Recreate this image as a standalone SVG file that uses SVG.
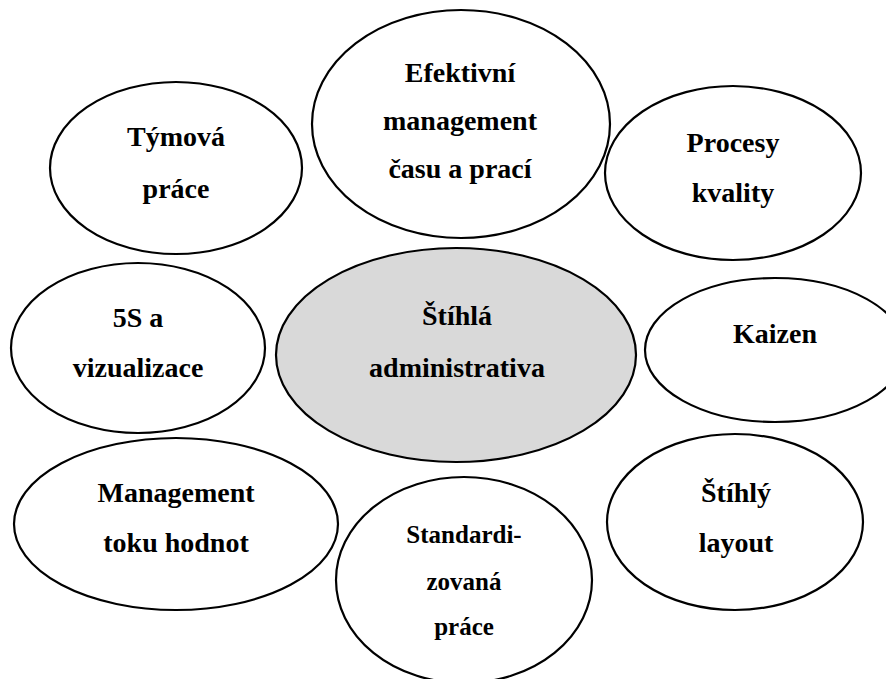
<svg xmlns="http://www.w3.org/2000/svg" width="886" height="679" viewBox="0 0 886 679">
  <style>
    .node { fill: #ffffff; stroke: #000000; stroke-width: 2.2; }
    .core { fill: #d9d9d9; stroke: #000000; stroke-width: 2.2; }
    .label { font-family: "Liberation Serif", "Times New Roman", serif; font-weight: bold; font-size: 28px; fill: #000000; text-anchor: middle; }
    .small { font-size: 25px; }
  </style>
  <rect width="886" height="679" fill="#ffffff"/>

  <!-- no connectors: the topics are laid out around the centre -->
  <g id="connectors"/>

  <g id="tymova-prace">
    <ellipse class="node" cx="176" cy="168" rx="126" ry="86"/>
    <text class="label" x="176" y="146">Týmová</text>
    <text class="label" x="176" y="198">práce</text>
  </g>

  <g id="efektivni-management">
    <ellipse class="node" cx="461" cy="124" rx="149" ry="114"/>
    <text class="label" x="460" y="82">Efektivní</text>
    <text class="label" x="460" y="130">management</text>
    <text class="label" x="460" y="178">času a prací</text>
  </g>

  <g id="procesy-kvality">
    <ellipse class="node" cx="733" cy="173" rx="128" ry="87"/>
    <text class="label" x="733" y="152">Procesy</text>
    <text class="label" x="733" y="202">kvality</text>
  </g>

  <g id="5s-vizualizace">
    <ellipse class="node" cx="138" cy="348" rx="127" ry="85"/>
    <text class="label" x="138" y="327">5S a</text>
    <text class="label" x="138" y="377">vizualizace</text>
  </g>

  <g id="stihla-administrativa">
    <ellipse class="core" cx="456" cy="355" rx="180" ry="107"/>
    <text class="label" x="457" y="325">Štíhlá</text>
    <text class="label" x="457" y="377">administrativa</text>
  </g>

  <g id="kaizen">
    <ellipse class="node" cx="775" cy="350" rx="130" ry="72"/>
    <text class="label" x="775" y="343">Kaizen</text>
  </g>

  <g id="management-toku-hodnot">
    <ellipse class="node" cx="176" cy="524" rx="162" ry="86"/>
    <text class="label" x="176" y="502">Management</text>
    <text class="label" x="176" y="552">toku hodnot</text>
  </g>

  <g id="standardizovana-prace">
    <ellipse class="node" cx="464" cy="580" rx="128" ry="103"/>
    <text class="label small" x="464" y="543">Standardi-</text>
    <text class="label small" x="464" y="590">zovaná</text>
    <text class="label small" x="464" y="635">práce</text>
  </g>

  <g id="stihly-layout">
    <ellipse class="node" cx="735" cy="522" rx="128" ry="88"/>
    <text class="label" x="736" y="502">Štíhlý</text>
    <text class="label" x="736" y="552">layout</text>
  </g>
</svg>
